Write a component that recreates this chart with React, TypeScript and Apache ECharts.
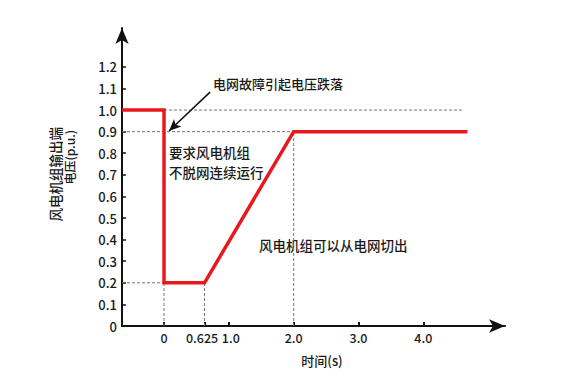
import React, { useEffect, useRef } from "react";
import * as echarts from "echarts";

const redX = [-0.648, 0, 0, 0.625, 2.0, 4.68];
const redY = [1.0, 1.0, 0.2, 0.2, 0.9, 0.9];

const guideSegments: number[][][] = [
  [[0, 1.0], [4.61, 1.0]],
  [[-0.648, 0.9], [2.0, 0.9]],
  [[-0.648, 0.2], [0, 0.2]],
  [[0, 0], [0, 0.2]],
  [[0.625, 0], [0.625, 0.2]],
  [[2.0, 0], [2.0, 0.9]],
];

const xTicks = [0, 0.625, 1, 2, 3, 4];
const xTickLabels = ["0", "0.625", "1.0", "2.0", "3.0", "4.0"];
const yTicks = [0, 0.1, 0.2, 0.3, 0.4, 0.5, 0.6, 0.7, 0.8, 0.9, 1.0, 1.1, 1.2];
const yTickLabels = ["0", "0.1", "0.2", "0.3", "0.4", "0.5", "0.6", "0.7", "0.8", "0.9", "1.0", "1.1", "1.2"];

const arrowFrom = [0.71, 1.083];
const arrowTo = [0.077, 0.903];

const FONT = "Noto Sans CJK SC";
const W = 500;
const INK = "#1a1a1a";

export default function App() {
  const ref = useRef<HTMLDivElement>(null);
  useEffect(() => {
    if (!ref.current) return;
    const chart = echarts.init(ref.current, null, { renderer: "svg" });
    const guideSeries = guideSegments.map((seg) => ({
      type: "line",
      data: seg,
      symbol: "none",
      silent: true,
      z: 1,
      lineStyle: { color: "#777", width: 1, type: [3, 2] },
    }));
    const txt = (text: string, x: number, y: number, extra: any = {}, rot = 0) => ({
      type: "text",
      x,
      y,
      rotation: rot,
      style: { text, fontSize: 13.5, fontFamily: FONT, fontWeight: W, fill: INK, textVerticalAlign: "middle", ...extra },
    });
    const lblFont = { fontSize: 12.5, fontWeight: W, fontFamily: FONT, color: INK };
    chart.setOption({
      animation: false,
      grid: { left: 122, right: 74, top: 28, bottom: 64 },
      xAxis: {
        type: "value",
        min: -0.648,
        max: 5.26,
        axisLine: {
          onZero: false,
          lineStyle: { color: "#111", width: 2 },
          symbol: ["none", "arrow"],
          symbolSize: [10, 16],
        },
        axisTick: { inside: true, length: 4, lineStyle: { color: "#111", width: 2 }, customValues: xTicks },
        axisLabel: {
          customValues: xTicks,
          formatter: (v: number) => {
            const i = xTicks.indexOf(v);
            if (i < 0) return "";
            if (v === 0.625) return "{l|" + xTickLabels[i] + "}";
            if (v === 1) return "{r|" + xTickLabels[i] + "}";
            return xTickLabels[i];
          },
          ...lblFont,
          rich: {
            l: { ...lblFont, padding: [0, 5, 0, 0] },
            r: { ...lblFont, padding: [0, 0, 0, 4] },
          },
          margin: 5,
        },
        splitLine: { show: false },
      },
      yAxis: {
        type: "value",
        min: 0,
        max: 1.38,
        axisLine: {
          onZero: false,
          lineStyle: { color: "#111", width: 2 },
          symbol: ["none", "arrow"],
          symbolSize: [10, 16],
        },
        axisTick: { inside: true, length: 4, lineStyle: { color: "#111", width: 1.5 }, customValues: yTicks },
        axisLabel: {
          customValues: yTicks,
          formatter: (v: number) => {
            const i = yTicks.findIndex((t) => Math.abs(t - v) < 1e-6);
            return i >= 0 ? yTickLabels[i] : "";
          },
          color: INK,
          fontSize: 13,
          fontWeight: W,
          fontFamily: FONT,
          margin: 5,
        },
        splitLine: { show: false },
      },
      series: [
        ...guideSeries,
        {
          type: "line",
          data: redX.map((x, i) => [x, redY[i]]),
          symbol: "none",
          z: 3,
          lineStyle: { color: "#e8191c", width: 3.5, join: "miter" },
          markLine: {
            silent: true,
            symbol: ["none", "arrow"],
            symbolSize: [8, 12],
            label: { show: false },
            lineStyle: { color: "#111", width: 1.5, type: "solid" },
            data: [[{ coord: arrowFrom }, { coord: arrowTo }]],
          },
        },
      ],
      graphic: [
        txt("电网故障引起电压跌落", 213, 83, { fontSize: 13 }),
        txt("要求风电机组", 169, 152),
        txt("不脱网连续运行", 169, 172),
        txt("风电机组可以从电网切出", 259, 245),
        txt("时间(s)", 322, 360, { fontSize: 13, textAlign: "center" }),
        txt("风电机组输出端", 55, 127, { textAlign: "right" }, Math.PI / 2),
        txt("电压(p.u.)", 69, 130, { fontSize: 12, textAlign: "right" }, Math.PI / 2),
      ],
    });
    return () => chart.dispose();
  }, []);
  return <div ref={ref} style={{ position: "fixed", left: 0, top: 0, width: 579, height: 390, background: "#fff" }} />;
}
